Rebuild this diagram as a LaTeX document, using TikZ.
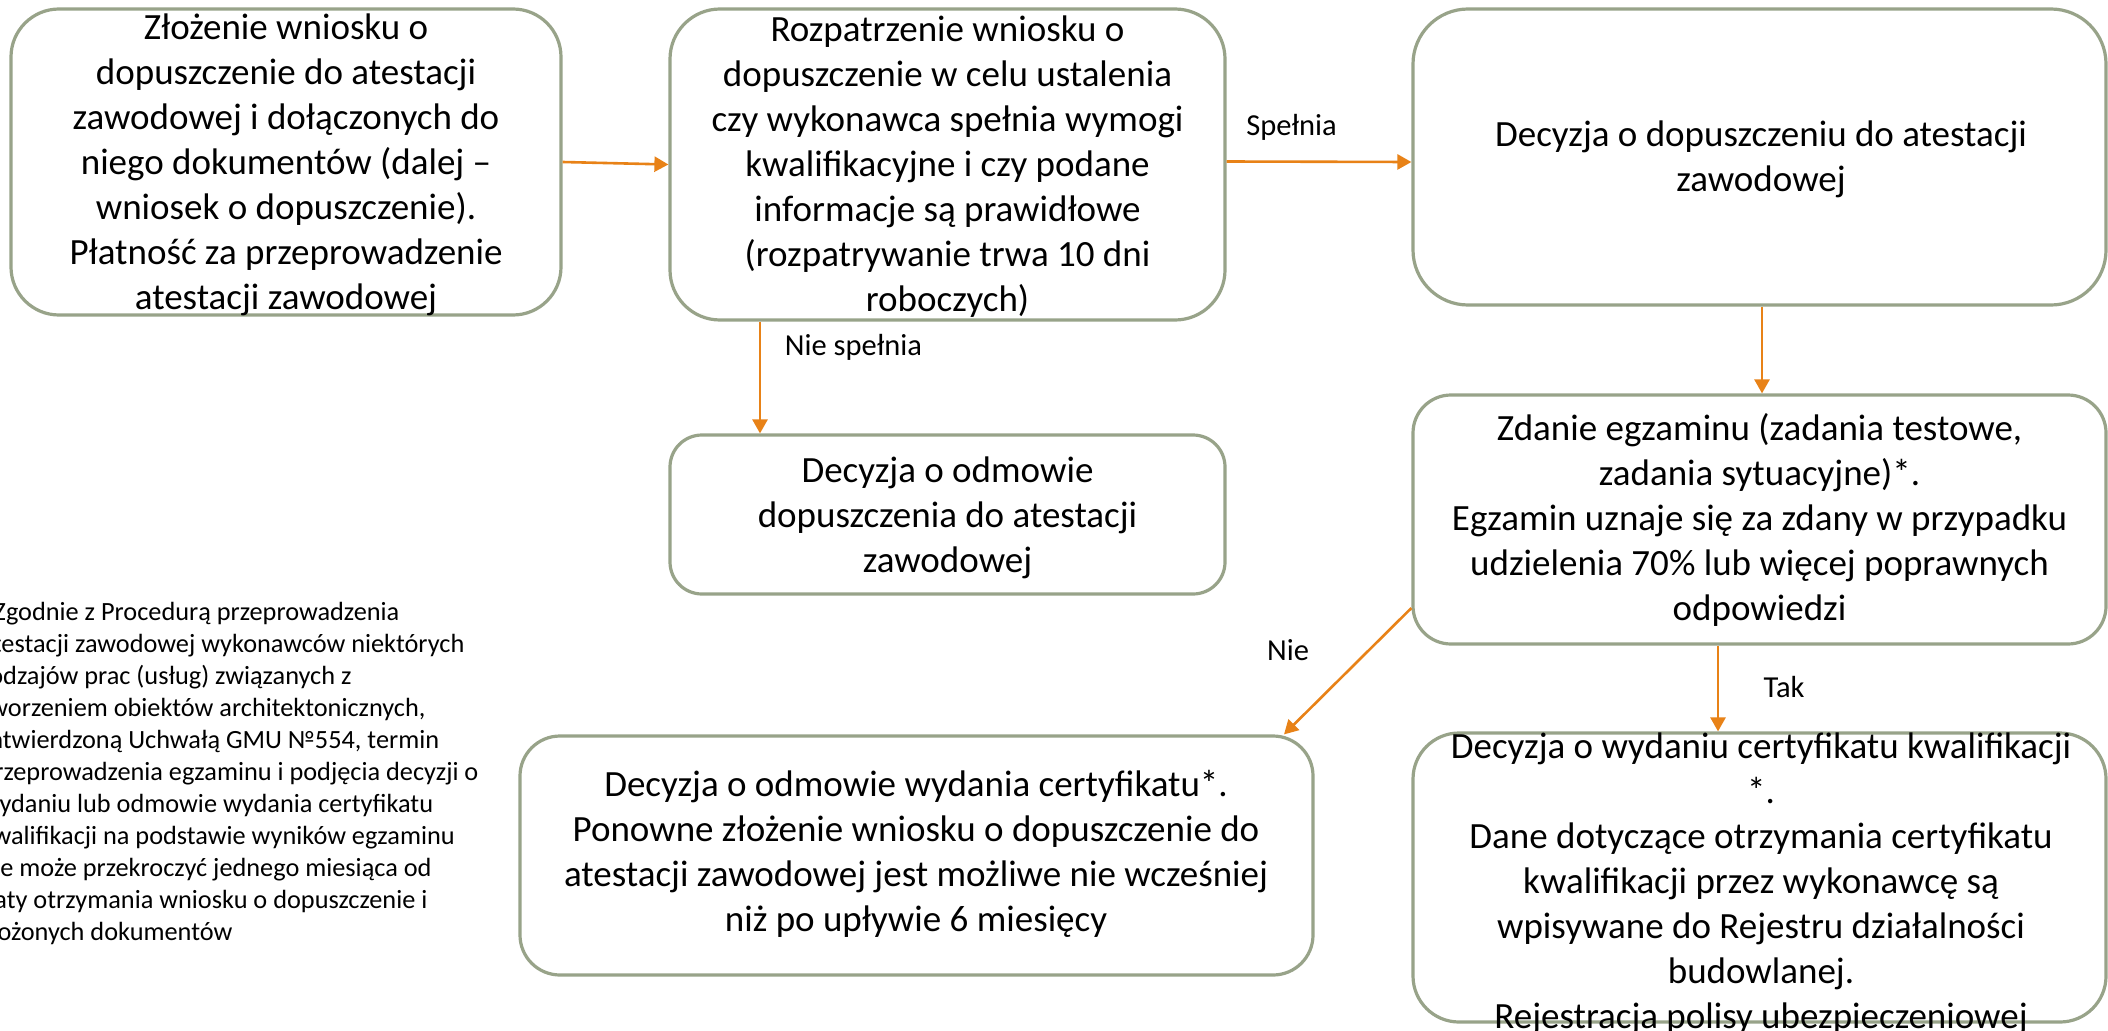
\documentclass[tikz,border=0pt]{standalone}
\usepackage{fontspec}
\setmainfont{Carlito}
\usetikzlibrary{arrows.meta}
\definecolor{boxc}{RGB}{152,163,137}
\definecolor{arrc}{RGB}{232,130,23}
\begin{document}
\begin{tikzpicture}[x=1pt,y=-1pt,
 boxn/.style={draw=boxc,line width=3.2pt,rounded corners=#1pt,inner sep=0pt},
 btext/.style={align=center,inner sep=0pt,font=\fontsize{37}{45}\selectfont},
 arr/.style={draw=arrc,line width=2.6pt,-{Triangle[length=14pt,width=15pt]}},
 lbl/.style={inner sep=0pt,font=\fontsize{30.5}{37}\selectfont},
 note/.style={align=left,inner sep=0pt,anchor=north west,font=\fontsize{26.3}{32}\selectfont}]
\clip (0,0) rectangle (2108,1030);
\fill[white] (0,0) rectangle (2108,1030);

% boxes
\node[boxn=48,minimum width=550pt,minimum height=306pt] (b1) at (286,162) {};
\node[boxn=50,minimum width=555pt,minimum height=311pt] (b2) at (947.5,164.5) {};
\node[boxn=55,minimum width=693pt,minimum height=296pt] (b3) at (1759.5,157) {};
\node[boxn=32,minimum width=555pt,minimum height=159pt] (b4) at (947.5,514.5) {};
\node[boxn=38,minimum width=693pt,minimum height=249pt] (b5) at (1759.5,519.5) {};
\node[boxn=40,minimum width=793pt,minimum height=239pt] (b6) at (916.5,855.5) {};
\node[boxn=46,minimum width=693pt,minimum height=289pt] (b7) at (1759.5,877.5) {};

% box texts
\node[btext] (t1) at (286,164.5) {Złożenie wniosku o\\dopuszczenie do atestacji\\zawodowej i dołączonych do\\niego dokumentów (dalej –\\wniosek o dopuszczenie).\\Płatność za przeprowadzenie\\atestacji zawodowej};
\node[btext] (t2) at (947.5,166.5) {Rozpatrzenie wniosku o\\dopuszczenie w celu ustalenia\\czy wykonawca spełnia wymogi\\kwalifikacyjne i czy podane\\informacje są prawidłowe\\(rozpatrywanie trwa 10 dni\\roboczych)};
\node[btext] (t3) at (1761,159.5) {Decyzja o dopuszczeniu do atestacji\\zawodowej};
\node[btext] (t4) at (947.5,518) {Decyzja o odmowie\\dopuszczenia do atestacji\\zawodowej};
\node[btext] (t5) at (1759.5,520) {Zdanie egzaminu (zadania testowe,\\zadania sytuacyjne)*.\\Egzamin uznaje się za zdany w przypadku\\udzielenia 70\% lub więcej poprawnych\\odpowiedzi};
\node[btext] (t6) at (916,854) {Decyzja o odmowie wydania certyfikatu*.\\Ponowne złożenie wniosku o dopuszczenie do\\atestacji zawodowej jest możliwe nie wcześniej\\niż po upływie 6 miesięcy};
\node[btext,anchor=north] (t7) at (1761,733) {Decyzja o wydaniu certyfikatu kwalifikacji\\*.\\Dane dotyczące otrzymania certyfikatu\\kwalifikacji przez wykonawcę są\\wpisywane do Rejestru działalności\\budowlanej.\\Rejestracja polisy ubezpieczeniowej};

% footnote
\node[note] (fn) at (-19.6,602) {*Zgodnie z Procedurą przeprowadzenia\\atestacji zawodowej wykonawców niektórych\\rodzajów prac (usług) związanych z\\tworzeniem obiektów architektonicznych,\\zatwierdzoną Uchwałą GMU №554, termin\\przeprowadzenia egzaminu i podjęcia decyzji o\\wydaniu lub odmowie wydania certyfikatu\\kwalifikacji na podstawie wyników egzaminu\\nie może przekroczyć jednego miesiąca od\\daty otrzymania wniosku o dopuszczenie i\\złożonych dokumentów};

% helper coordinates
\coordinate (c3) at (760,0);
\coordinate (c4) at (1762,0);
\coordinate (c5) at (1718,0);
\coordinate (c6a) at (0,608);
\coordinate (c6b) at (1284,0);

% connectors
\draw[arr] (b1.east) -- (b2.west);
\draw[arr] ([yshift=3pt]b2.east) -- ([yshift=-5pt]b3.west);
\draw[arr] (b2.south -| c3) -- (b4.north -| c3);
\draw[arr] (b3.south -| c4) -- (b5.north -| c4);
\draw[arr] (b5.south -| c5) -- (b7.north -| c5);
\draw[arr] (b5.west |- c6a) -- (b6.north -| c6b);

% labels
\node[lbl] (l1) at (1291.5,127) {Spełnia};
\node[lbl] (l2) at (853.5,347) {Nie spełnia};
\node[lbl] (l3) at (1784,687) {Tak};
\node[lbl] (l4) at (1288,650) {Nie};
\end{tikzpicture}
\end{document}
